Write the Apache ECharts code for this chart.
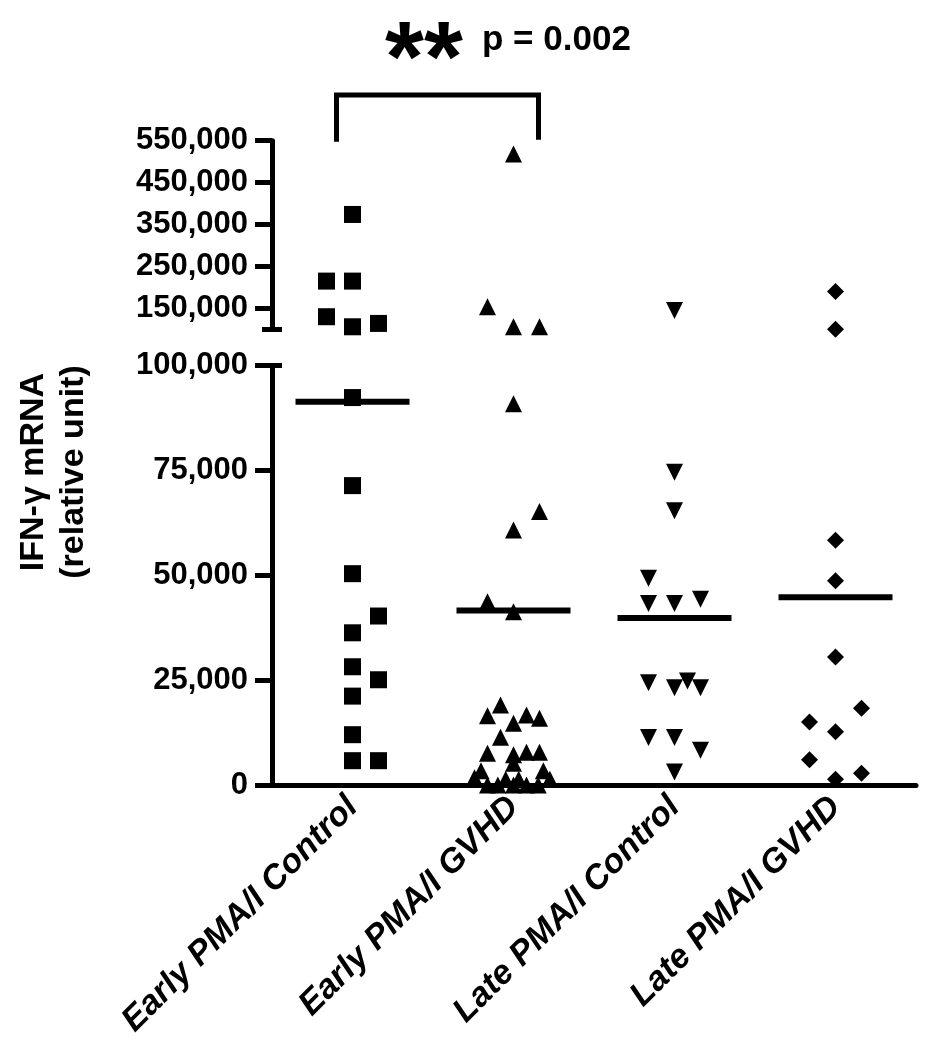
<!DOCTYPE html>
<html><head><meta charset="utf-8">
<script src="https://cdn.jsdelivr.net/npm/echarts@6/dist/echarts.min.js"></script>
<style>html,body{margin:0;padding:0;background:#fff}#c{width:930px;height:1050px}</style>
</head><body><div id="c"></div>
<script>
// ---------- data ----------
const categories = ['Early PMA/I Control', 'Early PMA/I GVHD', 'Late PMA/I Control', 'Late PMA/I GVHD'];

const earlyControl = [374000, 215000, 215000, 130000, 106000, 114000, 92400, 71400, 50400, 40300, 36300, 28200, 25100, 21200, 12000, 5800, 5800];
const earlyControlSpread = [0, -2, 0, -2, 0, 2, 0, 0, 0, 2, 0, 0, 2, 0, 0, 0, 2];

const earlyGVHD = [518000, 154000, 106000, 106000, 90900, 65200, 60800, 43700, 41300,
  19100, 16500, 16700, 15900, 14700, 11400, 7600, 7200, 7800, 7800, 5200, 3400, 3400,
  1700, 1400, 1400, 1400, 0, 0, 0, 0, 0];
const earlyGVHDSpread = [0, -2, 0, 2, 0, 2, 0, -2, 0,
  -1, -2, 1, 2, 0, -1, -2, 0, 1, 2, 0, -2.5, 2.3,
  -3, -0.6, 0.4, 2.8, -2, -1.2, 0, 1, 1.9];

const lateControl = [145000, 74600, 65400, 49300, 43300, 43300, 44300, 24400, 23200, 24800, 23200, 11300, 11300, 8300, 3100];
const lateControlSpread = [0, 0, 0, -2, -2, 0, 2, -2, 0, 1, 2, -2, 0, 2, 0];

const lateGVHD = [190000, 100000, 58400, 48700, 30500, 18300, 15000, 12700, 6000, 2800, 1400];
const lateGVHDSpread = [0, 0, 0, 0, 0, 2, -2, 0, -2, 2, 0];

const groupMeans = [91400, 41600, 39800, 44800];

const lowerTicks = [0, 25000, 50000, 75000, 100000];
const upperTicks = [150000, 250000, 350000, 450000, 550000];
const breakValue = 100000;
const upperMax = 550000;

const bracketGroups = [0, 1];
const bracketTopValue = 659000;
const starsText = '**';
const pValueText = 'p = 0.002';
const yTitle = 'IFN-\u03b3 mRNA\n(relative unit)';

// ---------- chart ----------
const FONT = '"Liberation Sans", Arial, Helvetica, sans-serif';
const BLACK = '#000';
const SPREAD_PX = 13;
const groups = [earlyControl, earlyGVHD, lateControl, lateGVHD];
const spreads = [earlyControlSpread, earlyGVHDSpread, lateControlSpread, lateGVHDSpread];
const symbols = ['rect', 'triangle', 'triangle', 'diamond'];
const rotations = [0, 0, 180, 0];
const fmt = v => Number(v).toLocaleString('en-US');

const series = [];
groups.forEach((vals, g) => {
  const up = [], low = [];
  vals.forEach((v, i) => {
    const item = { value: [g, v], symbolOffset: [spreads[g][i] * SPREAD_PX, 0] };
    (v >= breakValue ? up : low).push(item);
  });
  const common = {
    type: 'scatter', symbol: symbols[g], symbolRotate: rotations[g], symbolSize: 17,
    itemStyle: { color: BLACK, opacity: 1 }, clip: false, silent: true, z: 3
  };
  series.push(Object.assign({}, common, { xAxisIndex: 0, yAxisIndex: 0, data: up }));
  series.push(Object.assign({}, common, { xAxisIndex: 1, yAxisIndex: 3, data: low }));
});
series.push({
  type: 'scatter', xAxisIndex: 1, yAxisIndex: 3, symbol: 'rect', symbolSize: [114, 6],
  itemStyle: { color: BLACK, opacity: 1 }, clip: false, silent: true, z: 2,
  data: groupMeans.map((m, i) => [i, m])
});
series.push({
  type: 'custom', xAxisIndex: 0, yAxisIndex: 0, clip: false, silent: true, z: 4,
  dimensions: ['a', 'b', 'top', 'bottom'],
  encode: { x: [0, 1], y: [2, 3] },
  data: [[bracketGroups[0], bracketGroups[1], bracketTopValue, upperMax]],
  renderItem: function (params, api) {
    const pl = api.coord([api.value(0), api.value(2)]);
    const pr = api.coord([api.value(1), api.value(2)]);
    const pb = api.coord([api.value(0), api.value(3)]);
    const xl = pl[0] - 16, xr = pr[0] + 25;
    return {
      type: 'polyline',
      shape: { points: [[xl, pb[1] + 1], [xl, pl[1]], [xr, pl[1]], [xr, pb[1] - 1]] },
      style: { stroke: BLACK, lineWidth: 5, fill: null, lineJoin: 'miter', lineCap: 'butt' }
    };
  }
});

const axisLineStyle = { color: BLACK, width: 5 };
const yLabel = { color: BLACK, fontSize: 31, fontWeight: 'bold', fontFamily: FONT, margin: 24, formatter: fmt };

const option = {
  animation: false,
  backgroundColor: '#fff',
  grid: [
    { left: 272, right: 14, top: 140.7, height: 188.6, outerBoundsMode: 'none', containLabel: false },
    { left: 272, right: 14, top: 365.7, height: 419.3, outerBoundsMode: 'none', containLabel: false }
  ],
  xAxis: [
    { gridIndex: 0, type: 'category', data: categories, show: false },
    {
      gridIndex: 1, type: 'category', data: categories,
      axisLine: { lineStyle: axisLineStyle },
      axisTick: { alignWithLabel: true, length: 14, lineStyle: { color: BLACK, width: 5 } },
      axisLabel: { rotate: 45, interval: 0, color: BLACK, fontSize: 34, fontWeight: 'bold', fontStyle: 'italic', fontFamily: FONT, margin: 17 },
      splitLine: { show: false }
    }
  ],
  yAxis: [
    {
      gridIndex: 0, type: 'value', position: 'left', min: breakValue, max: upperMax,
      axisLine: { show: true, lineStyle: axisLineStyle },
      axisTick: { show: true, length: 17, customValues: upperTicks, lineStyle: { color: BLACK, width: 5 } },
      axisLabel: Object.assign({ customValues: upperTicks }, yLabel),
      splitLine: { show: false }
    },
    {
      gridIndex: 0, type: 'value', position: 'left', min: breakValue, max: upperMax,
      axisLine: { show: false },
      axisTick: { show: true, length: 10, customValues: [breakValue], lineStyle: { color: BLACK, width: 5 } },
      axisLabel: { show: false, customValues: [breakValue] }, splitLine: { show: false }
    },
    {
      gridIndex: 0, type: 'value', position: 'left', min: breakValue, max: upperMax,
      axisLine: { show: false },
      axisTick: { show: true, inside: true, length: 10, customValues: [breakValue], lineStyle: { color: BLACK, width: 5 } },
      axisLabel: { show: false, customValues: [breakValue] }, splitLine: { show: false }
    },
    {
      gridIndex: 1, type: 'value', position: 'left', min: 0, max: breakValue, interval: 25000,
      axisLine: { show: true, lineStyle: axisLineStyle },
      axisTick: { show: true, length: 17, customValues: lowerTicks, lineStyle: { color: BLACK, width: 5 } },
      axisLabel: Object.assign({ customValues: lowerTicks }, yLabel),
      splitLine: { show: false }
    },
    {
      gridIndex: 1, type: 'value', position: 'left', min: 0, max: breakValue,
      axisLine: { show: false },
      axisTick: { show: true, inside: true, length: 10, customValues: [breakValue], lineStyle: { color: BLACK, width: 5 } },
      axisLabel: { show: false, customValues: [breakValue] }, splitLine: { show: false }
    }
  ],
  graphic: [
    { type: 'text', left: 385, top: 13, silent: true,
      style: { text: starsText, fill: BLACK, fontSize: 100, fontWeight: 'bold', fontFamily: FONT } },
    { type: 'text', left: 482, top: 23, silent: true,
      style: { text: pValueText, fill: BLACK, fontSize: 35, fontWeight: 'bold', fontFamily: FONT } },
    { type: 'text', x: 54, y: 472, rotation: Math.PI / 2, silent: true,
      style: { text: yTitle, fill: BLACK, fontSize: 34, fontWeight: 'bold', fontFamily: FONT,
               align: 'center', verticalAlign: 'middle', textAlign: 'center', textVerticalAlign: 'middle', lineHeight: 40 } }
  ],
  series: series
};

const chart = echarts.init(document.getElementById('c'), null, { renderer: 'canvas' });
chart.setOption(option);
</script>
</body></html>
